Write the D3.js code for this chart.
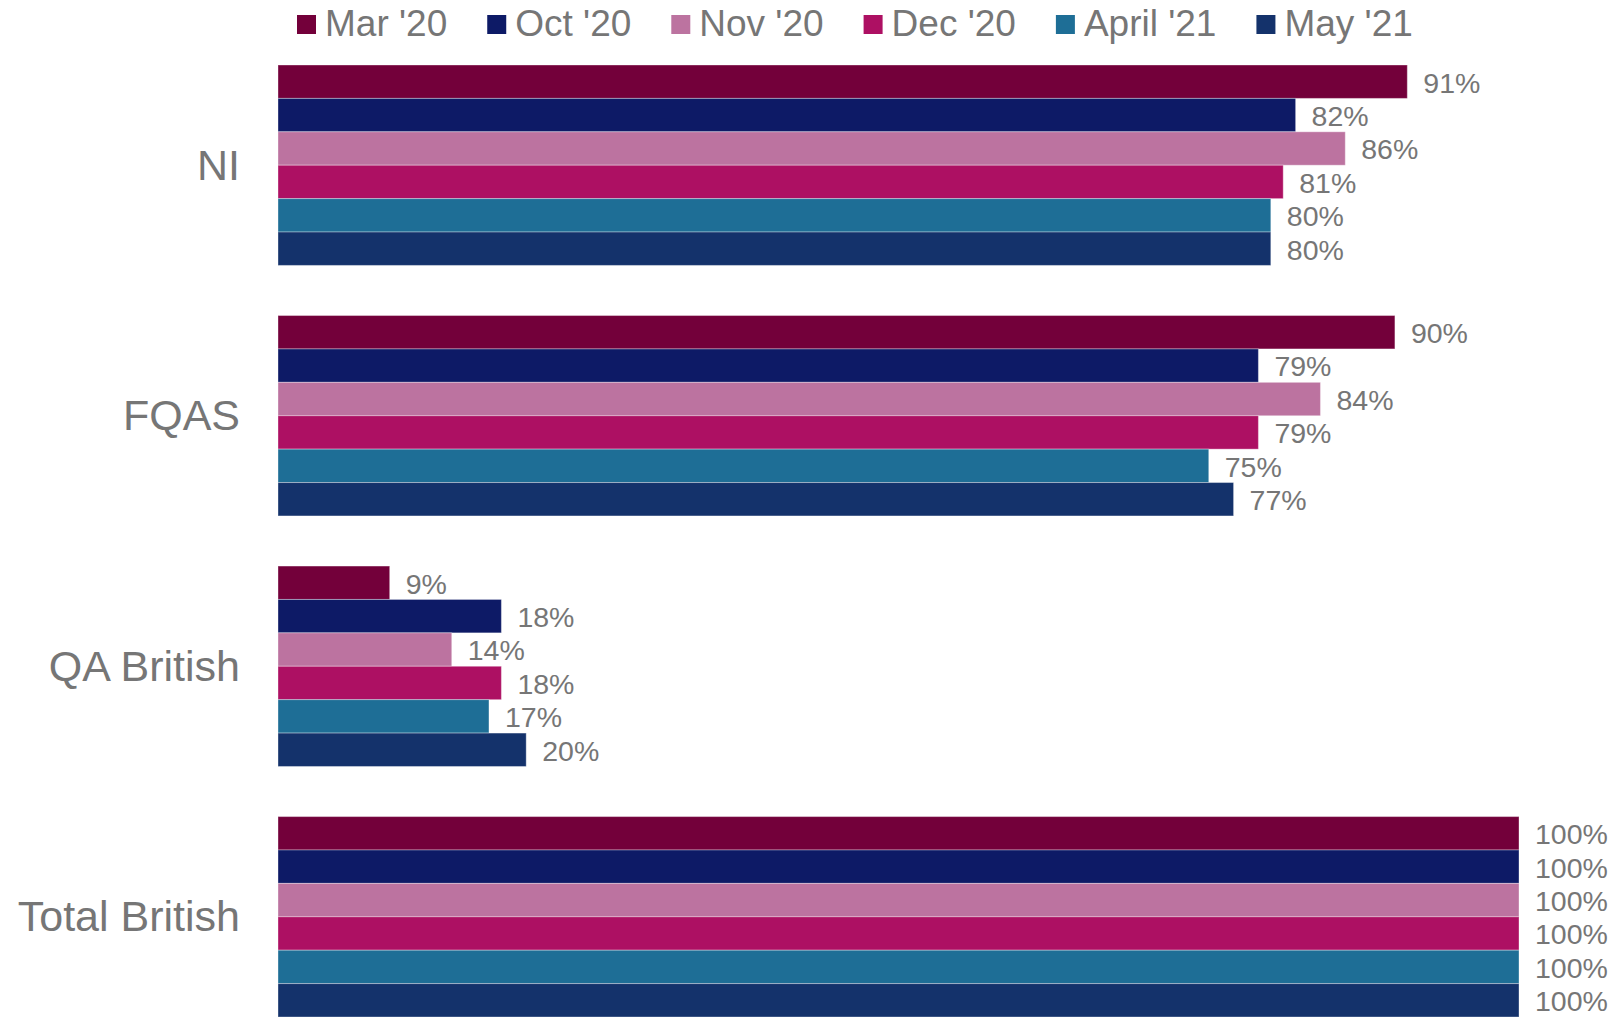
<!DOCTYPE html>
<html>
<head>
<meta charset="utf-8">
<script src="https://cdn.jsdelivr.net/npm/d3@7"></script>
<style>
  body { margin: 0; background: #fff; }
  svg { font-family: "Liberation Sans", Arial, sans-serif; }
</style>
</head>
<body>
<svg id="chart"></svg>
<script>
// Chart size
const width = 1618, height = 1017;

// Data
const categories = ["NI", "FQAS", "QA British", "Total British"];
const seriesNames = ["Mar '20", "Oct '20", "Nov '20", "Dec '20", "April '21", "May '21"];
const seriesColors = ["#73003a", "#0d1a66", "#bc73a0", "#ad1063", "#1e6e96", "#14326b"];
const niValues = [91, 82, 86, 81, 80, 80];
const fqasValues = [90, 79, 84, 79, 75, 77];
const qaBritishValues = [9, 18, 14, 18, 17, 20];
const totalBritishValues = [100, 100, 100, 100, 100, 100];

const valuesByCategory = [niValues, fqasValues, qaBritishValues, totalBritishValues];

const textColor = "#767676";

const svg = d3.select("#chart")
  .attr("width", width)
  .attr("height", height);

// Scales
const x = d3.scaleLinear()
  .domain([0, 100])
  .range([278, 1519]);

const y = d3.scaleBand()
  .domain(categories)
  .range([65, 1017])
  .paddingInner(0.2)
  .paddingOuter(0);

const ySeries = d3.scaleBand()
  .domain(seriesNames)
  .range([0, y.bandwidth()]);

// Flatten rows for drawing
const rows = [];
categories.forEach((cat, i) => {
  seriesNames.forEach((s, j) => {
    rows.push({ cat: cat, series: s, value: valuesByCategory[i][j], color: seriesColors[j] });
  });
});

// Bars
svg.append("g")
  .selectAll("rect")
  .data(rows)
  .join("rect")
  .attr("x", x(0))
  .attr("y", d => y(d.cat) + ySeries(d.series))
  .attr("width", d => x(d.value) - x(0))
  .attr("height", ySeries.bandwidth())
  .attr("fill", d => d.color)
  .attr("stroke", "rgba(255,255,255,0.35)")
  .attr("stroke-width", 1);

// Value labels
svg.append("g")
  .selectAll("text")
  .data(rows)
  .join("text")
  .attr("x", d => x(d.value) + 16)
  .attr("y", d => y(d.cat) + ySeries(d.series) + ySeries.bandwidth() / 2)
  .attr("dy", "0.38em")
  .attr("font-size", 28.5)
  .attr("fill", textColor)
  .text(d => d.value + "%");

// Category labels
svg.append("g")
  .selectAll("text")
  .data(categories)
  .join("text")
  .attr("x", 240)
  .attr("y", d => y(d) + y.bandwidth() / 2)
  .attr("dy", "0.34em")
  .attr("text-anchor", "end")
  .attr("font-size", 43)
  .attr("fill", textColor)
  .text(d => d);

// Legend
const legend = svg.append("g");
let lx = 297;
seriesNames.forEach((s, i) => {
  const item = legend.append("g").attr("transform", `translate(${lx},0)`);
  item.append("rect")
    .attr("x", 0)
    .attr("y", 15)
    .attr("width", 19)
    .attr("height", 19)
    .attr("fill", seriesColors[i]);
  const t = item.append("text")
    .attr("x", 28)
    .attr("y", 36)
    .attr("font-size", 37)
    .attr("fill", textColor)
    .text(s);
  lx += 28 + t.node().getComputedTextLength() + 40;
});
</script>
</body>
</html>
